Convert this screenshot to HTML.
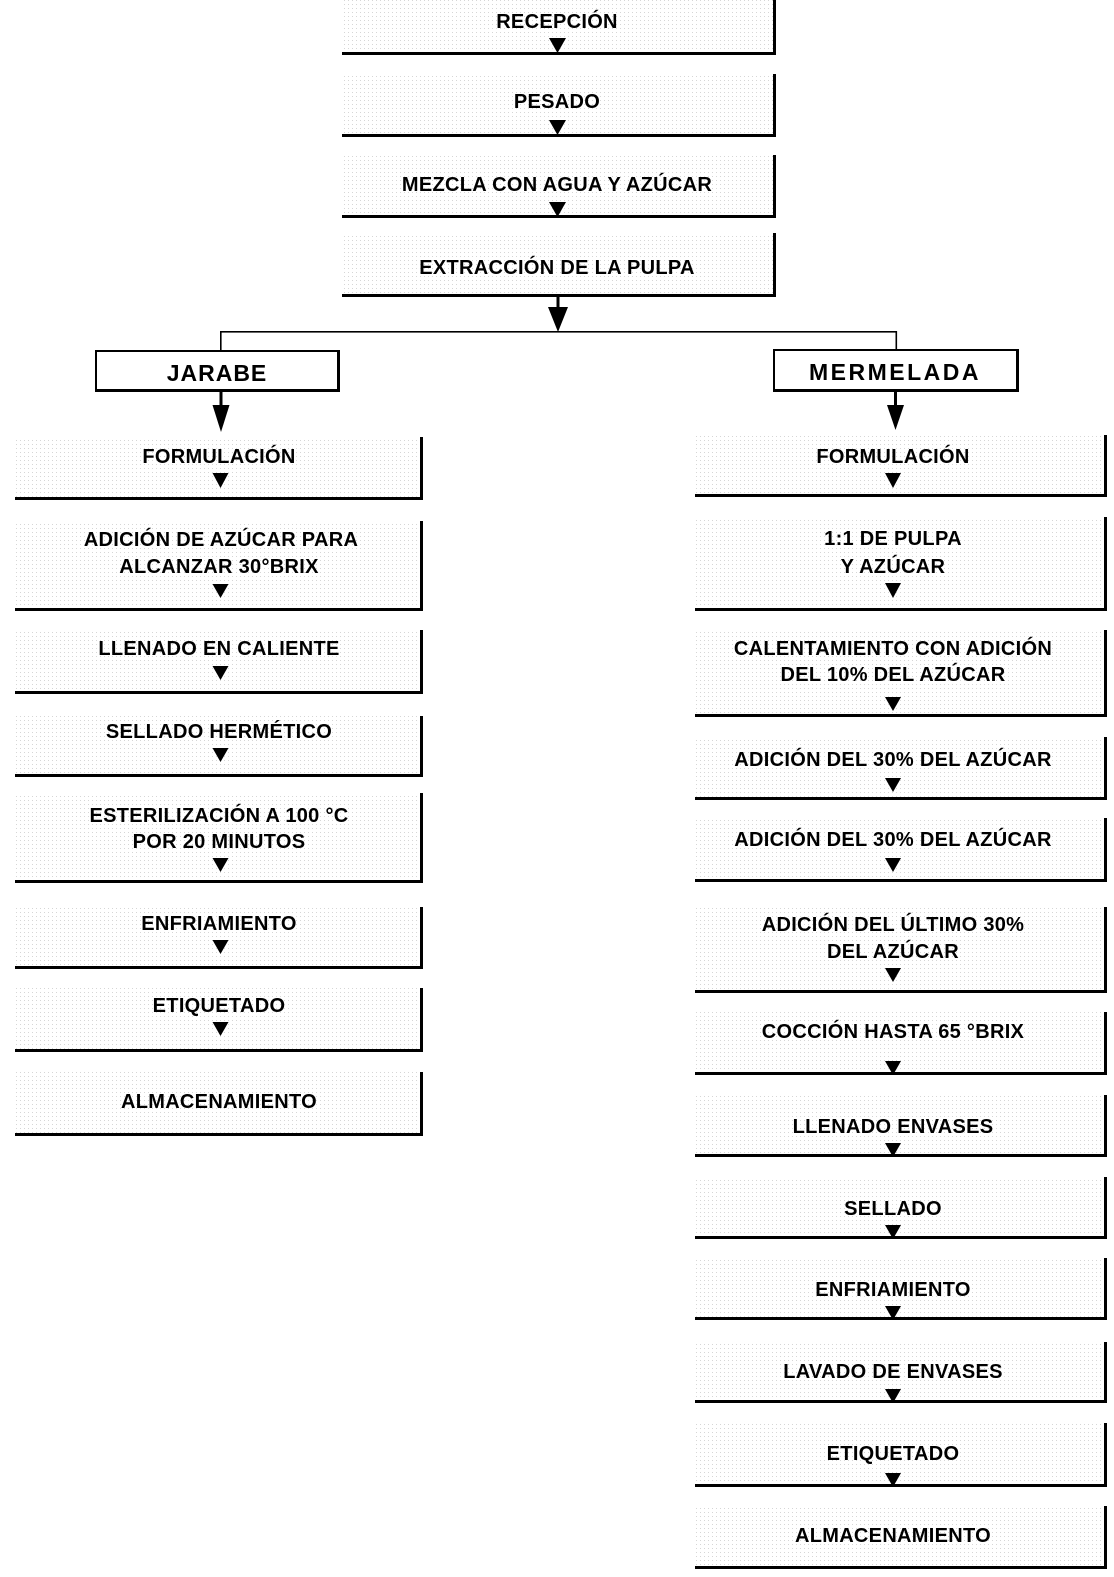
<!DOCTYPE html>
<html>
<head>
<meta charset="utf-8">
<style>
  html, body { margin:0; padding:0; background:#fff; }
  svg { display:block; }
  text { font-family: "Liberation Sans", "DejaVu Sans", sans-serif; font-weight:bold; fill:#000; }
  .s { font-size:20px; letter-spacing:0.3px; }
  .h { font-size:23px; }
</style>
</head>
<body>
<svg width="1114" height="1577" viewBox="0 0 1114 1577" xmlns="http://www.w3.org/2000/svg">
  <defs>
    <pattern id="dots" width="4" height="4" patternUnits="userSpaceOnUse">
      <rect x="0" y="0" width="1" height="1" fill="#999"/>
    </pattern>
  </defs>
  <rect width="1114" height="1577" fill="#fff"/>

  <!-- ===== TOP COLUMN (L=342, R=776) ===== -->
  <g>
    <rect x="342" y="0" width="434" height="55" fill="url(#dots)" opacity="0.4"/>
    <rect x="342" y="74" width="434" height="63" fill="url(#dots)" opacity="0.4"/>
    <rect x="342" y="155" width="434" height="63" fill="url(#dots)" opacity="0.4"/>
    <rect x="342" y="233" width="434" height="64" fill="url(#dots)" opacity="0.4"/>
    <rect x="773" y="0" width="3" height="55" fill="#000"/>
    <rect x="342" y="52" width="434" height="3" fill="#000"/>
    <rect x="773" y="74" width="3" height="63" fill="#000"/>
    <rect x="342" y="134" width="434" height="3" fill="#000"/>
    <rect x="773" y="155" width="3" height="63" fill="#000"/>
    <rect x="342" y="215" width="434" height="3" fill="#000"/>
    <rect x="773" y="233" width="3" height="64" fill="#000"/>
    <rect x="342" y="294" width="434" height="3" fill="#000"/>

    <text class="s" x="557" y="28" text-anchor="middle">RECEPCIÓN</text>
    <text class="s" x="557" y="108" text-anchor="middle">PESADO</text>
    <text class="s" x="557" y="191" text-anchor="middle">MEZCLA CON AGUA Y AZÚCAR</text>
    <text class="s" x="557" y="274" text-anchor="middle">EXTRACCIÓN DE LA PULPA</text>

    <polygon points="549,38 566,38 557.5,53" fill="#000"/>
    <polygon points="549,120 566,120 557.5,135" fill="#000"/>
    <polygon points="549,202 566,202 557.5,217" fill="#000"/>

    <rect x="556.5" y="297" width="3" height="12" fill="#000"/>
    <polygon points="548,307 568,307 558,332" fill="#000"/>
    <rect x="220" y="331" width="677" height="1.6" fill="#000"/>
    <rect x="220" y="331" width="1.6" height="20" fill="#000"/>
    <rect x="895.5" y="331" width="1.6" height="19" fill="#000"/>
  </g>

  <!-- ===== HEADERS ===== -->
  <rect x="96" y="351" width="243" height="40" fill="#fff" stroke="#000" stroke-width="2"/>
  <rect x="337" y="351" width="3" height="41" fill="#000"/>
  <rect x="96" y="389" width="244" height="3" fill="#000"/>
  <text class="h" x="217" y="381" text-anchor="middle" letter-spacing="1">JARABE</text>

  <rect x="774" y="350" width="244" height="41" fill="#fff" stroke="#000" stroke-width="2"/>
  <rect x="1016" y="350" width="3" height="42" fill="#000"/>
  <rect x="774" y="389" width="245" height="3" fill="#000"/>
  <text class="h" x="895" y="380" text-anchor="middle" letter-spacing="2.5">MERMELADA</text>

  <rect x="219.5" y="392" width="3" height="15" fill="#000"/>
  <polygon points="212.5,405 229.5,405 221,432" fill="#000"/>
  <rect x="894" y="392" width="3" height="15" fill="#000"/>
  <polygon points="887,405 904,405 895.5,430" fill="#000"/>

  <!-- ===== LEFT COLUMN (L=15, R=423) ===== -->
  <g>
    <rect x="15" y="437" width="408" height="63" fill="url(#dots)" opacity="0.4"/>
    <rect x="15" y="521" width="408" height="90" fill="url(#dots)" opacity="0.4"/>
    <rect x="15" y="630" width="408" height="64" fill="url(#dots)" opacity="0.4"/>
    <rect x="15" y="716" width="408" height="61" fill="url(#dots)" opacity="0.4"/>
    <rect x="15" y="793" width="408" height="90" fill="url(#dots)" opacity="0.4"/>
    <rect x="15" y="907" width="408" height="62" fill="url(#dots)" opacity="0.4"/>
    <rect x="15" y="988" width="408" height="64" fill="url(#dots)" opacity="0.4"/>
    <rect x="15" y="1072" width="408" height="64" fill="url(#dots)" opacity="0.4"/>

    <rect x="420" y="437" width="3" height="63" fill="#000"/><rect x="15" y="497" width="408" height="3" fill="#000"/>
    <rect x="420" y="521" width="3" height="90" fill="#000"/><rect x="15" y="608" width="408" height="3" fill="#000"/>
    <rect x="420" y="630" width="3" height="64" fill="#000"/><rect x="15" y="691" width="408" height="3" fill="#000"/>
    <rect x="420" y="716" width="3" height="61" fill="#000"/><rect x="15" y="774" width="408" height="3" fill="#000"/>
    <rect x="420" y="793" width="3" height="90" fill="#000"/><rect x="15" y="880" width="408" height="3" fill="#000"/>
    <rect x="420" y="907" width="3" height="62" fill="#000"/><rect x="15" y="966" width="408" height="3" fill="#000"/>
    <rect x="420" y="988" width="3" height="64" fill="#000"/><rect x="15" y="1049" width="408" height="3" fill="#000"/>
    <rect x="420" y="1072" width="3" height="64" fill="#000"/><rect x="15" y="1133" width="408" height="3" fill="#000"/>

    <text class="s" x="219" y="463" text-anchor="middle">FORMULACIÓN</text>
    <text class="s" x="221" y="546" text-anchor="middle">ADICIÓN DE AZÚCAR PARA</text>
    <text class="s" x="219" y="573" text-anchor="middle">ALCANZAR 30°BRIX</text>
    <text class="s" x="219" y="655" text-anchor="middle">LLENADO EN CALIENTE</text>
    <text class="s" x="219" y="738" text-anchor="middle">SELLADO HERMÉTICO</text>
    <text class="s" x="219" y="822" text-anchor="middle">ESTERILIZACIÓN A 100 °C</text>
    <text class="s" x="219" y="848" text-anchor="middle">POR 20 MINUTOS</text>
    <text class="s" x="219" y="930" text-anchor="middle">ENFRIAMIENTO</text>
    <text class="s" x="219" y="1012" text-anchor="middle">ETIQUETADO</text>
    <text class="s" x="219" y="1108" text-anchor="middle">ALMACENAMIENTO</text>

    <polygon points="212.5,473 228.5,473 220.5,488" fill="#000"/>
    <polygon points="212.5,584 228.5,584 220.5,598" fill="#000"/>
    <polygon points="212.5,666 228.5,666 220.5,680" fill="#000"/>
    <polygon points="212.5,748 228.5,748 220.5,762" fill="#000"/>
    <polygon points="212.5,858 228.5,858 220.5,872" fill="#000"/>
    <polygon points="212.5,940 228.5,940 220.5,954" fill="#000"/>
    <polygon points="212.5,1022 228.5,1022 220.5,1036" fill="#000"/>
  </g>

  <!-- ===== RIGHT COLUMN (L=695, R=1107) ===== -->
  <g>
    <rect x="695" y="435" width="412" height="62" fill="url(#dots)" opacity="0.4"/>
    <rect x="695" y="517" width="412" height="94" fill="url(#dots)" opacity="0.4"/>
    <rect x="695" y="630" width="412" height="87" fill="url(#dots)" opacity="0.4"/>
    <rect x="695" y="737" width="412" height="63" fill="url(#dots)" opacity="0.4"/>
    <rect x="695" y="818" width="412" height="64" fill="url(#dots)" opacity="0.4"/>
    <rect x="695" y="907" width="412" height="86" fill="url(#dots)" opacity="0.4"/>
    <rect x="695" y="1012" width="412" height="63" fill="url(#dots)" opacity="0.4"/>
    <rect x="695" y="1095" width="412" height="62" fill="url(#dots)" opacity="0.4"/>
    <rect x="695" y="1177" width="412" height="62" fill="url(#dots)" opacity="0.4"/>
    <rect x="695" y="1258" width="412" height="62" fill="url(#dots)" opacity="0.4"/>
    <rect x="695" y="1342" width="412" height="61" fill="url(#dots)" opacity="0.4"/>
    <rect x="695" y="1423" width="412" height="64" fill="url(#dots)" opacity="0.4"/>
    <rect x="695" y="1506" width="412" height="63" fill="url(#dots)" opacity="0.4"/>

    <rect x="1104" y="435" width="3" height="62" fill="#000"/><rect x="695" y="494" width="412" height="3" fill="#000"/>
    <rect x="1104" y="517" width="3" height="94" fill="#000"/><rect x="695" y="608" width="412" height="3" fill="#000"/>
    <rect x="1104" y="630" width="3" height="87" fill="#000"/><rect x="695" y="714" width="412" height="3" fill="#000"/>
    <rect x="1104" y="737" width="3" height="63" fill="#000"/><rect x="695" y="797" width="412" height="3" fill="#000"/>
    <rect x="1104" y="818" width="3" height="64" fill="#000"/><rect x="695" y="879" width="412" height="3" fill="#000"/>
    <rect x="1104" y="907" width="3" height="86" fill="#000"/><rect x="695" y="990" width="412" height="3" fill="#000"/>
    <rect x="1104" y="1012" width="3" height="63" fill="#000"/><rect x="695" y="1072" width="412" height="3" fill="#000"/>
    <rect x="1104" y="1095" width="3" height="62" fill="#000"/><rect x="695" y="1154" width="412" height="3" fill="#000"/>
    <rect x="1104" y="1177" width="3" height="62" fill="#000"/><rect x="695" y="1236" width="412" height="3" fill="#000"/>
    <rect x="1104" y="1258" width="3" height="62" fill="#000"/><rect x="695" y="1317" width="412" height="3" fill="#000"/>
    <rect x="1104" y="1342" width="3" height="61" fill="#000"/><rect x="695" y="1400" width="412" height="3" fill="#000"/>
    <rect x="1104" y="1423" width="3" height="64" fill="#000"/><rect x="695" y="1484" width="412" height="3" fill="#000"/>
    <rect x="1104" y="1506" width="3" height="63" fill="#000"/><rect x="695" y="1566" width="412" height="3" fill="#000"/>

    <text class="s" x="893" y="463" text-anchor="middle">FORMULACIÓN</text>
    <text class="s" x="893" y="545" text-anchor="middle">1:1 DE PULPA</text>
    <text class="s" x="893" y="573" text-anchor="middle">Y AZÚCAR</text>
    <text class="s" x="893" y="655" text-anchor="middle">CALENTAMIENTO CON ADICIÓN</text>
    <text class="s" x="893" y="681" text-anchor="middle">DEL 10% DEL AZÚCAR</text>
    <text class="s" x="893" y="766" text-anchor="middle">ADICIÓN DEL 30% DEL AZÚCAR</text>
    <text class="s" x="893" y="846" text-anchor="middle">ADICIÓN DEL 30% DEL AZÚCAR</text>
    <text class="s" x="893" y="931" text-anchor="middle">ADICIÓN DEL ÚLTIMO 30%</text>
    <text class="s" x="893" y="958" text-anchor="middle">DEL AZÚCAR</text>
    <text class="s" x="893" y="1038" text-anchor="middle">COCCIÓN HASTA 65 °BRIX</text>
    <text class="s" x="893" y="1133" text-anchor="middle">LLENADO ENVASES</text>
    <text class="s" x="893" y="1215" text-anchor="middle">SELLADO</text>
    <text class="s" x="893" y="1296" text-anchor="middle">ENFRIAMIENTO</text>
    <text class="s" x="893" y="1378" text-anchor="middle">LAVADO DE ENVASES</text>
    <text class="s" x="893" y="1460" text-anchor="middle">ETIQUETADO</text>
    <text class="s" x="893" y="1542" text-anchor="middle">ALMACENAMIENTO</text>

    <polygon points="885,473 901,473 893,488" fill="#000"/>
    <polygon points="885,583 901,583 893,598" fill="#000"/>
    <polygon points="885,697 901,697 893,711" fill="#000"/>
    <polygon points="885,778 901,778 893,792" fill="#000"/>
    <polygon points="885,858 901,858 893,872" fill="#000"/>
    <polygon points="885,968 901,968 893,982" fill="#000"/>
    <polygon points="885,1061 901,1061 893,1075" fill="#000"/>
    <polygon points="885,1143 901,1143 893,1157" fill="#000"/>
    <polygon points="885,1225 901,1225 893,1239" fill="#000"/>
    <polygon points="885,1306 901,1306 893,1320" fill="#000"/>
    <polygon points="885,1389 901,1389 893,1403" fill="#000"/>
    <polygon points="885,1473 901,1473 893,1487" fill="#000"/>
  </g>
</svg>
</body>
</html>
